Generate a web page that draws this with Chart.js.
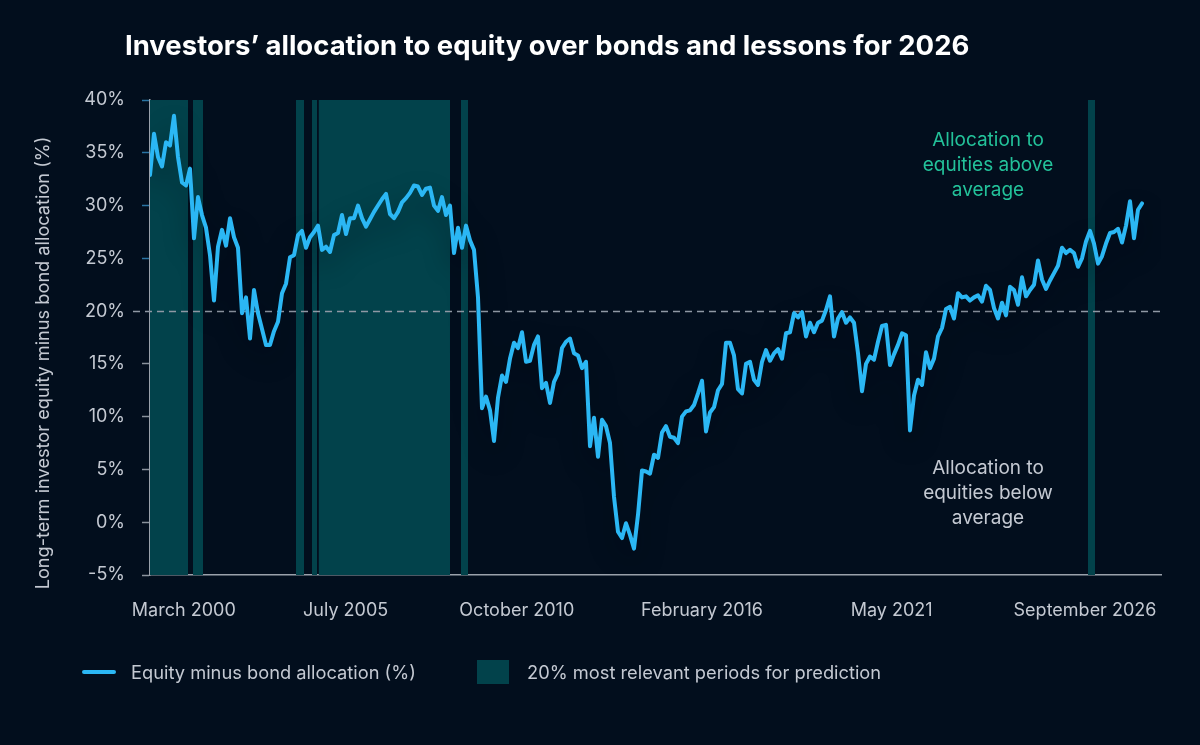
<!DOCTYPE html>
<html><head><meta charset="utf-8">
<script src="https://cdn.jsdelivr.net/npm/chart.js@4.4.1/dist/chart.umd.min.js"></script>
<style>
html,body{margin:0;padding:0;background:#020e1d;}
#wrap{position:relative;width:1200px;height:745px;overflow:hidden;background:#020e1d;font-family:Inter,'Noto Sans',sans-serif;}
#c{position:absolute;left:0;top:0;}
.t{position:absolute;white-space:nowrap;}
#title{left:125px;top:27px;font-size:27.5px;line-height:36px;font-weight:700;color:#ffffff;}
#ytitle{left:-258px;top:351px;width:600px;text-align:center;font-size:18.2px;line-height:24px;color:#c4c9d2;transform:rotate(-90deg);transform-origin:50% 50%;}
.leg{font-size:18.3px;line-height:24px;color:#c4c9d2;top:660px;}
.ann{left:868px;width:240px;text-align:center;font-size:19px;line-height:25px;}
</style></head><body>
<div id="wrap">
<canvas id="c" width="1200" height="745"></canvas>
<div class="t" id="title">Investors’ allocation to equity over bonds and lessons for 2026</div>
<div class="t" id="ytitle">Long-term investor equity minus bond allocation (%)</div>
<div class="t ann" id="annUp" style="top:127px;color:#23c29a;">Allocation to<br>equities above<br>average</div>
<div class="t ann" id="annDown" style="top:455px;color:#c4c9d2;">Allocation to<br>equities below<br>average</div>
<div class="t" style="left:82px;top:670px;width:34px;height:4px;border-radius:2px;background:#2bb7f4;"></div>
<div class="t leg" style="left:131px;">Equity minus bond allocation (%)</div>
<div class="t" style="left:477px;top:660px;width:32px;height:24px;background:#02424b;"></div>
<div class="t leg" style="left:527px;">20% most relevant periods for prediction</div>
</div>
<script>
// Equity minus bond allocation (%), evenly spaced observations
const allocation = [
 32.9, 36.8, 34.6, 33.7, 36.0, 35.7, 38.5, 34.6, 32.2, 31.9,
 33.5, 26.9, 30.8, 29.1, 27.9, 25.3, 21.0, 26.1, 27.7, 26.2,
 28.8, 27.0, 26.0, 19.8, 21.3, 17.4, 22.0, 19.8, 18.3, 16.8,
 16.8, 18.1, 19.0, 21.7, 22.6, 25.1, 25.3, 27.2, 27.6, 26.0,
 27.0, 27.5, 28.1, 25.8, 26.1, 25.6, 27.2, 27.4, 29.1, 27.3,
 28.8, 28.8, 30.0, 28.8, 28.0, 28.7, 29.4, 30.0, 30.6, 31.1,
 29.2, 28.8, 29.4, 30.3, 30.7, 31.2, 31.9, 31.8, 31.0, 31.6,
 31.7, 30.0, 29.5, 30.8, 29.1, 30.0, 25.5, 27.9, 26.0, 28.1,
 26.7, 25.8, 21.3, 10.8, 11.9, 10.6, 7.7, 11.8, 13.9, 13.3,
 15.5, 17.0, 16.5, 18.0, 15.2, 15.3, 16.8, 17.6, 12.7, 13.2,
 11.3, 13.3, 14.1, 16.5, 17.1, 17.4, 16.0, 15.8, 14.6, 15.2,
 7.2, 9.9, 6.2, 9.7, 9.1, 7.5, 2.4, -0.9, -1.5, -0.1,
 -1.2, -2.5, 0.7, 4.9, 4.8, 4.6, 6.4, 6.1, 8.5, 9.1,
 8.1, 8.0, 7.5, 10.0, 10.5, 10.6, 11.1, 12.2, 13.4, 8.6,
 10.4, 10.9, 12.5, 13.1, 17.0, 17.0, 15.8, 12.6, 12.2, 15.0,
 15.2, 13.5, 13.0, 15.2, 16.3, 15.3, 16.0, 16.4, 15.5, 17.9,
 18.0, 19.8, 19.4, 19.9, 17.6, 18.9, 18.0, 18.9, 19.1, 20.1,
 21.4, 17.6, 19.3, 19.9, 18.9, 19.4, 18.9, 16.0, 12.4, 15.0,
 15.7, 15.4, 17.1, 18.6, 18.7, 14.9, 15.9, 16.8, 17.9, 17.7,
 8.7, 12.0, 13.5, 13.0, 16.1, 14.6, 15.5, 17.6, 18.4, 20.2,
 20.4, 19.3, 21.7, 21.3, 21.4, 21.0, 21.3, 21.5, 20.9, 22.4,
 22.0, 20.3, 19.3, 20.8, 19.6, 22.3, 22.0, 20.6, 23.2, 21.4,
 22.0, 22.5, 24.8, 23.0, 22.1, 22.9, 23.6, 24.3, 26.0, 25.5,
 25.8, 25.5, 24.2, 25.0, 26.6, 27.6, 26.4, 24.5, 25.2, 26.4,
 27.4, 27.5, 27.8, 26.5, 28.1, 30.4, 26.9, 29.6, 30.2
];
// x-axis tick labels and the observation index they sit at
const tickLabels = ['March 2000', 'July 2005', 'October 2010', 'February 2016', 'May 2021', 'September 2026'];
const tickIndex = [8.45, 48.9, 91.7, 138, 185.4, 233.75];
// relevant periods (start index, end index)
const relevantStart = [0, 10.75, 36.5, 40.5, 42.2, 77.75, 234.5];
const relevantEnd   = [9.5, 13.25, 38.5, 41.75, 75, 79.5, 236.25];
const averageLevel = 20;
const axisEnd = 252.75;

const LINE = '#2bb7f4', BAND = '#02424b', TXT = '#c4c9d2', AX = '#9aa1ab';

const bandsPlugin = {
  id: 'bands',
  beforeDatasetsDraw(chart) {
    const {ctx, chartArea: a, scales: {x, y}} = chart;
    ctx.save();
    ctx.fillStyle = BAND;
    relevantStart.forEach((s, i) => {
      const x1 = x.getPixelForValue(s), x2 = x.getPixelForValue(relevantEnd[i]);
      ctx.fillRect(x1, a.top, x2 - x1, a.bottom - a.top);
    });
    const yy = Math.round(y.getPixelForValue(averageLevel)) + 0.5;
    ctx.strokeStyle = '#8f98a4';
    ctx.lineWidth = 1.3;
    ctx.setLineDash([7, 5]);
    ctx.beginPath();
    ctx.moveTo(a.left - 17, yy);
    ctx.lineTo(a.right, yy);
    ctx.stroke();
    ctx.restore();
  },
  beforeDatasetDraw(chart) {
    const ctx = chart.ctx;
    ctx.save();
    ctx.shadowColor = 'rgba(0,8,16,0.38)';
    ctx.shadowBlur = 26;
    ctx.shadowOffsetY = 12;
  },
  afterDatasetDraw(chart) { chart.ctx.restore(); }
};

new Chart(document.getElementById('c'), {
  type: 'line',
  data: {
    datasets: [{
      label: 'Equity minus bond allocation (%)',
      data: allocation.map((v, i) => ({x: i, y: v})),
      borderColor: LINE,
      borderWidth: 4,
      pointRadius: 0,
      tension: 0,
      borderJoinStyle: 'round',
      borderCapStyle: 'round'
    }]
  },
  options: {
    responsive: false,
    animation: false,
    layout: {padding: {top: 100, right: 39, left: 0, bottom: 0}},
    plugins: {legend: {display: false}, tooltip: {enabled: false}},
    scales: {
      x: {
        type: 'linear', min: 0, max: axisEnd,
        afterBuildTicks: s => { s.ticks = tickIndex.map(v => ({value: v})); },
        afterFit: s => { s.height = 170; },
        ticks: {autoSkip: false, maxRotation: 0, color: TXT, font: {family: 'Inter', size: 18}, padding: 17,
          callback: (v, i) => tickLabels[i]},
        grid: {display: false},
        border: {display: true, color: AX, width: 1.5}
      },
      y: {
        min: -5, max: 40,
        afterFit: s => { s.width = 150; },
        ticks: {stepSize: 5, color: TXT, font: {family: 'Inter', size: 18}, padding: 17,
          callback: v => v + '%'},
        grid: {drawOnChartArea: false, drawTicks: true, tickLength: 8, tickWidth: 1.5,
          tickColor: c => c.tick && c.tick.value === averageLevel ? 'rgba(0,0,0,0)' : (c.tick && c.tick.value > averageLevel ? '#2a74a3' : '#8a929c')},
        border: {display: true, color: AX, width: 1.5},
        title: {display: false}
      }
    }
  },
  plugins: [bandsPlugin]
});
</script>
</body></html>
